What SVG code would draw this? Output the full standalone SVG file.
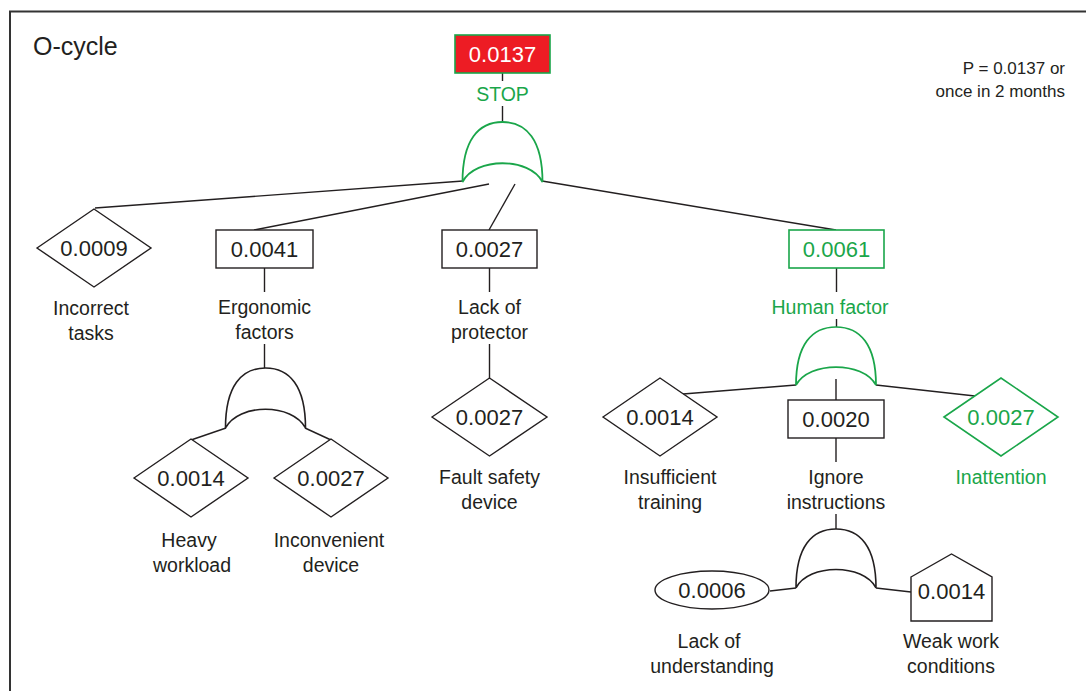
<svg xmlns="http://www.w3.org/2000/svg" width="1086" height="691" viewBox="0 0 1086 691">
  <style>
    .ln { fill: none; stroke: #231f20; stroke-width: 1.4; }
    .shape { fill: #ffffff; stroke: #231f20; stroke-width: 1.4; }
    .gshape { fill: #ffffff; stroke: #1aa64a; stroke-width: 1.6; }
    .gate { fill: #ffffff; stroke: #231f20; stroke-width: 1.6; }
    .ggate { fill: #ffffff; stroke: #1aa64a; stroke-width: 1.8; }
    text { font-family: "Liberation Sans", Arial, sans-serif; fill: #231f20; text-anchor: middle; }
    .num { font-size: 22px; }
    .lbl { font-size: 19.5px; }
    .green { fill: #1aa64a; }
  </style>
  <defs>
    <!-- AND gate symbol, origin at apex centre, 80 wide, 60 tall -->
    <path id="andGate" d="M-40,60 C-40,18 -24,0 0,0 C24,0 40,18 40,60 C27,35 -27,35 -40,60 Z"/>
  </defs>

  <!-- frame -->
  <path d="M10,691 V11.5 H1086" fill="none" stroke="#333333" stroke-width="2"/>
  <text x="33" y="55" style="font-size:25px;text-anchor:start">O-cycle</text>
  <text x="1065" y="74" style="font-size:17px;text-anchor:end">P = 0.0137 or</text>
  <text x="1065" y="97" style="font-size:17px;text-anchor:end">once in 2 months</text>

  <!-- connectors -->
  <g id="connectors" class="ln">
    <line x1="502.5" y1="73" x2="502.5" y2="81"/>
    <line x1="502.5" y1="106" x2="502.5" y2="122"/>
    <line x1="463" y1="181" x2="95" y2="208"/>
    <line x1="489" y1="184" x2="254" y2="230"/>
    <line x1="515" y1="184" x2="489" y2="230"/>
    <line x1="542" y1="181" x2="836" y2="230"/>
    <line x1="264.5" y1="268" x2="264.5" y2="292"/>
    <line x1="264.5" y1="344" x2="264.5" y2="368"/>
    <line x1="226" y1="428" x2="191" y2="440"/>
    <line x1="305" y1="428" x2="331" y2="440"/>
    <line x1="489.5" y1="268" x2="489.5" y2="292"/>
    <line x1="489.5" y1="344" x2="489.5" y2="378"/>
    <line x1="836.5" y1="268" x2="836.5" y2="292"/>
    <line x1="836.5" y1="319" x2="836.5" y2="327"/>
    <line x1="796" y1="385" x2="683" y2="394"/>
    <line x1="836" y1="379" x2="836" y2="400"/>
    <line x1="876" y1="385" x2="975" y2="396"/>
    <line x1="836" y1="438" x2="836" y2="462"/>
    <line x1="836" y1="514" x2="836" y2="529"/>
    <line x1="796" y1="588" x2="770" y2="591"/>
    <line x1="876" y1="588" x2="911" y2="592"/>
  </g>

  <!-- top event -->
  <g id="stop">
    <rect x="455" y="35" width="95" height="38" fill="#ed1c24" stroke="#1aa64a" stroke-width="1.6"/>
    <text x="502.5" y="62" class="num" style="fill:#ffffff">0.0137</text>
    <text x="502.5" y="101" class="lbl green">STOP</text>
  </g>
  <g id="gate-stop"><use href="#andGate" x="502.5" y="122" class="ggate"/></g>

  <g id="incorrect-tasks">
    <polygon class="shape" points="37,248 94,209 151,248 94,287"/>
    <text x="94" y="256" class="num">0.0009</text>
    <text x="91" y="315" class="lbl">Incorrect</text>
    <text x="91" y="340" class="lbl">tasks</text>
  </g>

  <g id="ergonomic-factors">
    <rect class="shape" x="216" y="230" width="97" height="38"/>
    <text x="264.5" y="257" class="num">0.0041</text>
    <text x="264.5" y="314" class="lbl">Ergonomic</text>
    <text x="264.5" y="339" class="lbl">factors</text>
  </g>
  <g id="gate-ergonomic"><use href="#andGate" x="265.5" y="368" class="gate"/></g>

  <g id="heavy-workload">
    <polygon class="shape" points="134,478 191,439 248,478 191,517"/>
    <text x="191" y="486" class="num">0.0014</text>
    <text x="189" y="547" class="lbl">Heavy</text>
    <text x="192" y="572" class="lbl">workload</text>
  </g>

  <g id="inconvenient-device">
    <polygon class="shape" points="274,478 331,439 388,478 331,517"/>
    <text x="331" y="486" class="num">0.0027</text>
    <text x="329" y="547" class="lbl">Inconvenient</text>
    <text x="331" y="572" class="lbl">device</text>
  </g>

  <g id="lack-of-protector">
    <rect class="shape" x="442" y="230" width="95" height="38"/>
    <text x="489.5" y="257" class="num">0.0027</text>
    <text x="489.5" y="314" class="lbl">Lack of</text>
    <text x="489.5" y="339" class="lbl">protector</text>
  </g>

  <g id="fault-safety-device">
    <polygon class="shape" points="432,417 489.5,378 547,417 489.5,456"/>
    <text x="489.5" y="425" class="num">0.0027</text>
    <text x="489.5" y="484" class="lbl">Fault safety</text>
    <text x="489.5" y="509" class="lbl">device</text>
  </g>

  <g id="human-factor">
    <rect class="gshape" x="789" y="230" width="95" height="38"/>
    <text x="836.5" y="257" class="num green">0.0061</text>
    <text x="830" y="314" class="lbl green">Human factor</text>
  </g>
  <g id="gate-human"><use href="#andGate" x="836" y="327" class="ggate" transform="translate(836 327) scale(1 0.97) translate(-836 -327)"/></g>

  <g id="insufficient-training">
    <polygon class="shape" points="603,417 660,378 717,417 660,456"/>
    <text x="660" y="425" class="num">0.0014</text>
    <text x="670" y="484" class="lbl">Insufficient</text>
    <text x="670" y="509" class="lbl">training</text>
  </g>

  <g id="ignore-instructions">
    <rect class="shape" x="788" y="400" width="96" height="38"/>
    <text x="836" y="427" class="num">0.0020</text>
    <text x="836" y="484" class="lbl">Ignore</text>
    <text x="836" y="509" class="lbl">instructions</text>
  </g>
  <g id="gate-ignore"><use href="#andGate" x="836" y="529" class="gate" transform="translate(836 529) scale(1 0.98) translate(-836 -529)"/></g>

  <g id="inattention">
    <polygon class="gshape" points="944,417 1001,378 1058,417 1001,456"/>
    <text x="1001" y="425" class="num green">0.0027</text>
    <text x="1001" y="484" class="lbl green">Inattention</text>
  </g>

  <g id="lack-of-understanding">
    <ellipse class="shape" cx="712" cy="590" rx="57" ry="19"/>
    <text x="712" y="598" class="num">0.0006</text>
    <text x="709" y="648" class="lbl">Lack of</text>
    <text x="712" y="673" class="lbl">understanding</text>
  </g>

  <g id="weak-work-conditions">
    <polygon class="shape" points="911,577 951.5,554 992,577 992,621 911,621"/>
    <text x="951.5" y="599" class="num">0.0014</text>
    <text x="951" y="648" class="lbl">Weak work</text>
    <text x="951" y="673" class="lbl">conditions</text>
  </g>
</svg>
